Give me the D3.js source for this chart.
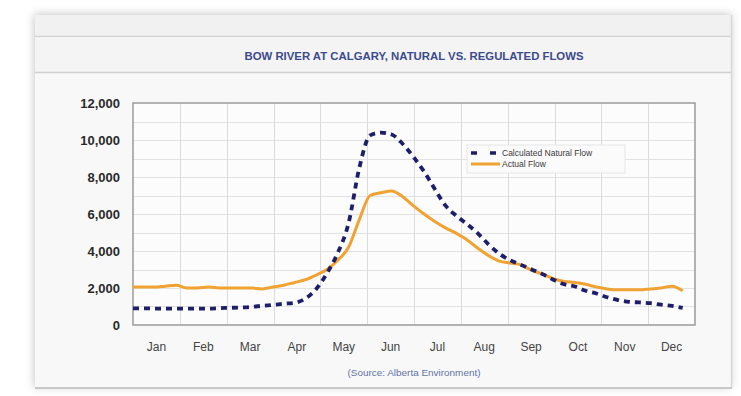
<!DOCTYPE html>
<html><head><meta charset="utf-8">
<script src="https://cdn.jsdelivr.net/npm/d3@7"></script>
<style>html,body{margin:0;padding:0;background:#fff;}svg{display:block;}</style>
</head><body>
<svg id="chart" width="741" height="396"></svg>
<script>
const months = ["Jan","Feb","Mar","Apr","May","Jun","Jul","Aug","Sep","Oct","Nov","Dec"];
const yTicks = [0,2000,4000,6000,8000,10000,12000];
const title = "BOW RIVER AT CALGARY, NATURAL VS. REGULATED FLOWS";
const source = "(Source: Alberta Environment)";
const seriesNames = ["Calculated Natural Flow","Actual Flow"];
// day of year for each weekly sample
const days = [0,7,14,21,28,35,42,49,56,63,70,77,84,91,98,105,112,119,126,133,140,147,154,161,168,175,182,189,196,203,210,217,224,231,238,245,252,259,266,273,280,287,294,301,308,315,322,329,336,343,350,357];
const naturalFlow = [900,900,890,890,890,880,880,880,910,930,950,980,1040,1090,1150,1200,1430,1950,2800,3900,5500,8500,10250,10400,10300,9800,9100,8300,7350,6450,5900,5450,4950,4350,3850,3500,3250,3000,2750,2450,2200,2080,1850,1700,1500,1350,1250,1220,1180,1100,1030,920];
const actualFlow = [2050,2050,2050,2100,2150,2000,2000,2050,2000,2000,2000,2000,1950,2050,2150,2300,2450,2700,3000,3500,4200,5700,7000,7150,7250,6950,6450,6000,5600,5250,4950,4600,4150,3750,3450,3350,3250,2950,2750,2500,2350,2300,2200,2050,1950,1900,1900,1900,1950,2000,2100,1850];

const svg = d3.select("#chart");
const L = 133, R = 695, T = 103, B = 325;

// drop shadow filter for the card
const defs = svg.append("defs");
const f = defs.append("filter").attr("id","sh").attr("x","-5%").attr("y","-5%").attr("width","110%").attr("height","110%");
f.append("feDropShadow").attr("dx",-1).attr("dy",-1).attr("stdDeviation",4).attr("flood-color","#000").attr("flood-opacity",0.22);

// card
svg.append("rect").attr("x",35).attr("y",15).attr("width",697).attr("height",373)
  .attr("fill","#f8f8f8").attr("filter","url(#sh)");
svg.append("rect").attr("x",35).attr("y",15).attr("width",697).attr("height",21).attr("fill","#f1f1f1");
svg.append("line").attr("x1",35).attr("x2",732).attr("y1",36.5).attr("y2",36.5).attr("stroke","#d4d4d4").attr("stroke-width",1.5);
svg.append("rect").attr("x",35).attr("y",39).attr("width",697).attr("height",33).attr("fill","#f4f4f4");
svg.append("line").attr("x1",35).attr("x2",732).attr("y1",72.5).attr("y2",72.5).attr("stroke","#cfcfcf").attr("stroke-width",1.5);
svg.append("line").attr("x1",731.5).attr("x2",731.5).attr("y1",15).attr("y2",388).attr("stroke","#d8d8d8").attr("stroke-width",1.5);
svg.append("line").attr("x1",35).attr("x2",732).attr("y1",388).attr("y2",388).attr("stroke","#c8c8c8").attr("stroke-width",2);

svg.append("text").attr("x",(L+R)/2).attr("y",60).attr("text-anchor","middle")
  .attr("font-family","'Liberation Sans Narrow','Liberation Sans',Arial,sans-serif")
  .attr("font-size",11).attr("font-weight","bold").attr("fill","#3c4b8c")
  .attr("textLength",339).attr("lengthAdjust","spacingAndGlyphs").text(title);

// scales
const x = d3.scaleLinear().domain([0,365]).range([L,R]);
const xb = d3.scaleBand().domain(months).range([L,R]);
const y = d3.scaleLinear().domain([0,12000]).range([B,T]);

// plot background
svg.append("rect").attr("x",L).attr("y",T).attr("width",R-L).attr("height",B-T).attr("fill","#fcfcfc");

// grid
const g = svg.append("g");
g.selectAll("line.h").data(d3.range(1000,12000,1000)).join("line")
  .attr("x1",L).attr("x2",R).attr("y1",d=>Math.round(y(d))+0.5).attr("y2",d=>Math.round(y(d))+0.5)
  .attr("stroke","#e2e2e2").attr("stroke-width",1);
g.selectAll("line.v").data(months.slice(1)).join("line")
  .attr("x1",d=>Math.round(xb(d))+0.5).attr("x2",d=>Math.round(xb(d))+0.5).attr("y1",T).attr("y2",B)
  .attr("stroke","#dcdcdc").attr("stroke-width",1);

// frame
svg.append("rect").attr("x",L).attr("y",T).attr("width",R-L).attr("height",B-T)
  .attr("fill","none").attr("stroke","#9a9a9a").attr("stroke-width",1.5);

// axes
const ya = svg.append("g").attr("transform",`translate(${L},0)`)
  .call(d3.axisLeft(y).tickValues(yTicks).tickFormat(d3.format(",")).tickSize(0).tickPadding(13));
ya.select(".domain").remove();
ya.selectAll("text").attr("font-family","'Liberation Sans',Arial,sans-serif").attr("font-size",13)
  .attr("font-weight","bold").attr("fill","#2a2a2a");

const xa = svg.append("g").attr("transform",`translate(0,${B})`)
  .call(d3.axisBottom(xb).tickSize(0).tickPadding(26));
xa.select(".domain").remove();
xa.selectAll("text").attr("font-family","'Liberation Sans',Arial,sans-serif").attr("font-size",12)
  .attr("fill","#444").attr("dy","0");

// lines
const line = d3.line().x((d,i)=>x(days[i])).y(d=>y(d)).curve(d3.curveMonotoneX);
svg.append("path").datum(actualFlow).attr("d",line).attr("fill","none")
  .attr("stroke","#f0a232").attr("stroke-width",3).attr("stroke-linejoin","round");
svg.append("path").datum(naturalFlow).attr("d",line).attr("fill","none")
  .attr("stroke","#1e1e6a").attr("stroke-width",3.8).attr("stroke-dasharray","6,5");

// legend
const lg = svg.append("g");
lg.append("rect").attr("x",467).attr("y",145).attr("width",158).attr("height",28)
  .attr("fill","#fbfbfb").attr("stroke","#e6e6e6");
lg.append("line").attr("x1",471).attr("x2",500).attr("y1",153).attr("y2",153)
  .attr("stroke","#1e1e6a").attr("stroke-width",3.5).attr("stroke-dasharray","6,13");
lg.append("line").attr("x1",471).attr("x2",500).attr("y1",164).attr("y2",164)
  .attr("stroke","#f0a232").attr("stroke-width",3);
lg.selectAll("text").data(seriesNames).join("text")
  .attr("x",502).attr("y",(d,i)=>156+i*11)
  .attr("font-family","'Liberation Sans',Arial,sans-serif").attr("font-size",8.5).attr("fill","#3a3a3a")
  .text(d=>d);

// source
svg.append("text").attr("x",(L+R)/2).attr("y",376).attr("text-anchor","middle")
  .attr("font-family","'Liberation Sans Narrow','Liberation Sans',Arial,sans-serif")
  .attr("font-size",8.5).attr("fill","#6272a6")
  .attr("textLength",133).attr("lengthAdjust","spacingAndGlyphs").text(source);
</script>
</body></html>
